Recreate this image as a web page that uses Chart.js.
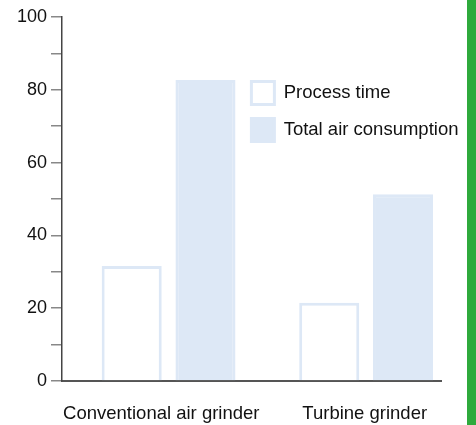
<!DOCTYPE html>
<html>
<head>
<meta charset="utf-8">
<script src="https://cdn.jsdelivr.net/npm/chart.js@4.4.1/dist/chart.umd.min.js"></script>
<style>
  html, body { margin: 0; padding: 0; background: #ffffff; }
  #wrap { position: relative; width: 476px; height: 425px; overflow: hidden; }
  #stripe { position: absolute; left: 467px; top: 0; width: 9px; height: 425px; background: #2eaa3c; }
</style>
</head>
<body>
<div id="wrap">
  <canvas id="c" width="476" height="425"></canvas>
  <div id="stripe"></div>
</div>
<script>
const categories = ['Conventional air grinder', 'Turbine grinder'];
const seriesNames = ['Process time', 'Total air consumption'];
const processTime = [31.6, 21.5];
const totalAir = [82.7, 51.3];
const yTickValues = [0, 20, 40, 60, 80, 100];

const FONT = '"Liberation Sans", Arial, Helvetica, sans-serif';
const LIGHT = '#dde8f6';

// where each category label sits relative to its bar group (in category units)
const labelShift = [-0.037, -0.007];

const legendPlacer = {
  id: 'legendPlacer',
  beforeDraw(chart) {
    const lg = chart.legend;
    if (!lg) return;
    const pad = lg.options.labels.padding;
    lg.left = 251.4 - pad;
    lg.top = 81.5 - pad;
    lg.right = chart.width;
    lg.bottom = chart.height;
    lg.width = lg.right - lg.left;
    lg.height = lg.bottom - lg.top;
  }
};

new Chart(document.getElementById('c'), {
  type: 'bar',
  data: {
    datasets: [
      {
        label: seriesNames[0],
        data: categories.map((c, i) => ({ x: i, y: processTime[i] })),
        backgroundColor: '#ffffff',
        borderColor: LIGHT,
        borderWidth: 3
      },
      {
        label: seriesNames[1],
        data: categories.map((c, i) => ({ x: i, y: totalAir[i] })),
        backgroundColor: LIGHT,
        borderColor: LIGHT,
        borderWidth: 3
      }
    ]
  },
  options: {
    responsive: false,
    animation: false,
    devicePixelRatio: 1,
    layout: { padding: { left: 0, right: 35, top: 17, bottom: 0 } },
    datasets: { bar: { categoryPercentage: 0.747, barPercentage: 0.814 } },
    plugins: {
      tooltip: { enabled: false },
      legend: {
        position: 'chartArea',
        align: 'start',
        labels: {
          boxWidth: 23,
          boxHeight: 23,
          padding: 14,
          color: '#111111',
          font: { family: FONT, size: 18.5 }
        }
      }
    },
    scales: {
      x: {
        type: 'linear',
        offset: false,
        min: -0.5397,
        max: 1.3792,
        grid: { display: false, drawTicks: false, offset: false },
        border: { display: true, color: '#555555', width: 2 },
        afterBuildTicks(scale) {
          scale.ticks = categories.map((c, i) => ({ value: i + labelShift[i] }));
        },
        ticks: {
          autoSkip: false,
          maxRotation: 0,
          padding: 22,
          color: '#111111',
          font: { family: FONT, size: 18.5 },
          callback: (v, i) => categories[i]
        },
        afterFit(scale) { scale.height = 44; }
      },
      y: {
        min: 0,
        max: 100,
        ticks: {
          stepSize: 10,
          padding: 4,
          color: '#111111',
          font: { family: FONT, size: 18 },
          callback: (v) => (yTickValues.includes(v) ? String(v) : '')
        },
        grid: { drawOnChartArea: false, tickLength: 11, color: '#888888', lineWidth: 1.5 },
        border: { display: true, color: '#444444', width: 1.5 },
        afterFit(scale) { scale.width = 62; }
      }
    }
  },
  plugins: [legendPlacer]
});
</script>
</body>
</html>
